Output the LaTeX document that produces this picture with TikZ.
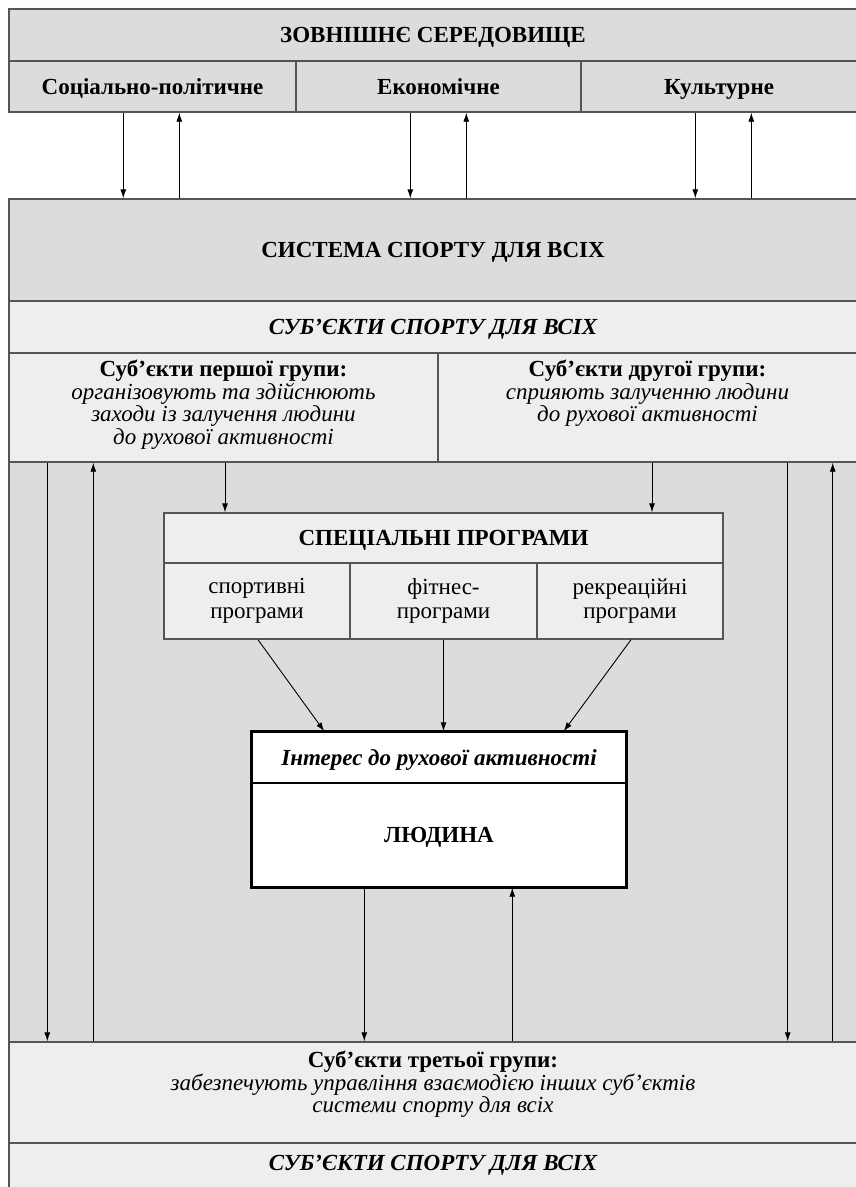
\documentclass[tikz,border=0pt]{standalone}
\usepackage{fontspec}
\setmainfont{Liberation Serif}
\usetikzlibrary{arrows.meta}
\definecolor{framegray}{HTML}{555555}
\definecolor{darkfill}{HTML}{DCDCDC}
\definecolor{lightfill}{HTML}{EEEEEE}
\tikzset{
  cell/.style={draw=framegray, line width=1.4pt, fill=darkfill, inner sep=0pt, align=center, font=\bfseries\fontsize{23}{24}\selectfont},
  lightcell/.style={cell, fill=lightfill},
  capline/.style={text height=15pt, text depth=0pt},
  plaincell/.style={lightcell, font=\fontsize{23}{24.5}\selectfont},
  txt/.style={align=center, inner sep=0pt, font=\fontsize{23}{22.5}\selectfont},
  arr/.style={-{Latex[length=9pt,width=6pt]}, line width=0.9pt}
}
\begin{document}
\begin{tikzpicture}[x=1pt,y=-1pt]
\useasboundingbox (0,0) rectangle (856,1187);
\fill[white] (0,0) rectangle (856,1187);
\node[cell, capline, minimum width=848, minimum height=52] (env) at (433,35) {ЗОВНІШНЄ СЕРЕДОВИЩЕ};
\node[cell, capline, minimum width=287, minimum height=51] (soc) at (152.5,86.5) {Соціально-політичне};
\node[cell, capline, minimum width=285, minimum height=51] (eco) at (438.5,86.5) {Економічне};
\node[cell, capline, minimum width=276, minimum height=51] (cul) at (719,86.5) {Культурне};
\node[cell, capline, minimum width=848, minimum height=102] (sys) at (433,250) {СИСТЕМА СПОРТУ ДЛЯ ВСІХ};
\node[lightcell, capline, minimum width=848, minimum height=52, font=\bfseries\itshape\fontsize{23}{24}\selectfont] (subj) at (433,327) {СУБ’ЄКТИ СПОРТУ ДЛЯ ВСІХ};
\node[cell, minimum width=848, minimum height=580] (field) at (433,752) {};
\node[lightcell, minimum width=429, minimum height=109] (grpa) at (223.5,407.5) {};
\node[lightcell, minimum width=419, minimum height=109] (grpb) at (647.5,407.5) {};
\node[txt, anchor=north] (grpatxt) at ([yshift=-8]grpa.north) {\textbf{Суб’єкти першої групи:}\\\textit{організовують та здійснюють}\\\textit{заходи із залучення людини}\\\textit{до рухової активності}};
\node[txt, anchor=north] (grpbtxt) at ([yshift=-8]grpb.north) {\textbf{Суб’єкти другої групи:}\\\textit{сприяють залученню людини}\\\textit{до рухової активності}};
\node[lightcell, capline, minimum width=559, minimum height=50] (spec) at (443.5,538) {СПЕЦІАЛЬНІ ПРОГРАМИ};
\node[plaincell, minimum width=186, minimum height=76] (spa) at (257,601) {спортивні\\програми};
\node[plaincell, minimum width=187, minimum height=76] (spb) at (443.5,601) {фітнес-\\програми};
\node[plaincell, minimum width=186, minimum height=76] (spc) at (630,601) {рекреаційні\\програми};
\node[cell, capline, fill=white, draw=black, minimum width=374, minimum height=51, font=\bfseries\itshape\fontsize{23}{24}\selectfont] (intr) at (439,757.5) {Інтерес до рухової активності};
\node[cell, capline, fill=white, draw=black, minimum width=374, minimum height=104] (man) at (439,835) {ЛЮДИНА};
\draw[line width=3pt] (intr.north west) rectangle (man.south east);
\node[lightcell, minimum width=848, minimum height=101] (grpc) at (433,1092.5) {};
\node[txt, anchor=north] (grpctxt) at ([yshift=-10]grpc.north) {\textbf{Суб’єкти третьої групи:}\\\textit{забезпечують управління взаємодією інших суб’єктів}\\\textit{системи спорту для всіх}};
\node[lightcell, minimum width=848, minimum height=60] (subjb) at (433,1173) {};
\node[txt, capline, font=\bfseries\itshape\fontsize{23}{24}\selectfont] (subjbtxt) at ([yshift=-21]subjb.north) {СУБ’ЄКТИ СПОРТУ ДЛЯ ВСІХ};
\foreach \n in {soc,eco,cul}{
  \draw[arr] ([xshift=115]\n.south west) -- ([xshift=115]\n.south west |- sys.north);
  \draw[arr] ([xshift=171]\n.south west |- sys.north) -- ([xshift=171]\n.south west);
}
\draw[arr] ([xshift=1.5]grpa.south) -- ([xshift=1.5]grpa.south |- spec.north);
\draw[arr] ([xshift=4.5]grpb.south) -- ([xshift=4.5]grpb.south |- spec.north);
\draw[arr] ([xshift=39]grpa.south west) -- ([xshift=39]grpa.south west |- grpc.north);
\draw[arr] ([xshift=85]grpa.south west |- grpc.north) -- ([xshift=85]grpa.south west);
\draw[arr] ([xshift=-70]grpb.south east) -- ([xshift=-70]grpb.south east |- grpc.north);
\draw[arr] ([xshift=-25]grpb.south east |- grpc.north) -- ([xshift=-25]grpb.south east);
\draw[arr] ([xshift=1]spa.south) -- ([xshift=73]intr.north west);
\draw[arr] (spb.south) -- (spb.south |- intr.north);
\draw[arr] ([xshift=1]spc.south) -- ([xshift=-63]intr.north east);
\draw[arr] ([xshift=113]man.south west) -- ([xshift=113]man.south west |- grpc.north);
\draw[arr] ([xshift=261]man.south west |- grpc.north) -- ([xshift=261]man.south west);
\end{tikzpicture}
\end{document}
